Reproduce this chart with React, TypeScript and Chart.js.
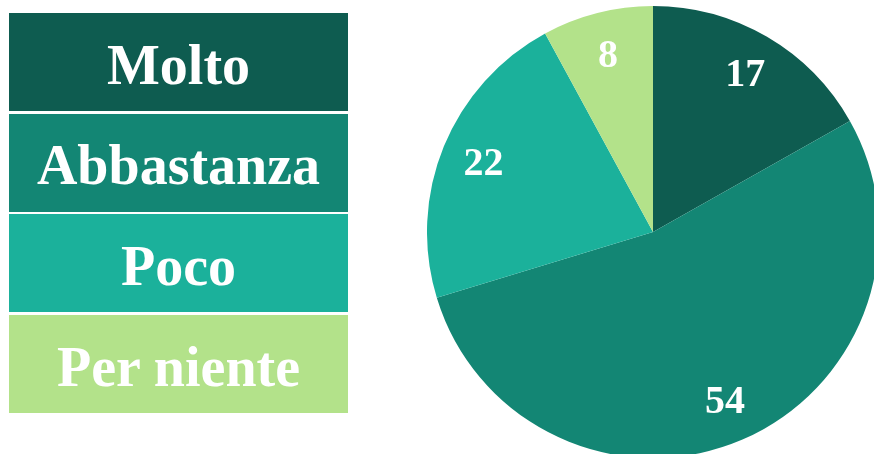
import React, { useEffect, useRef } from "react";
import { Chart, registerables } from "chart.js";

Chart.register(...registerables);

const categories = ["Molto", "Abbastanza", "Poco", "Per niente"];
const values = [17, 54, 22, 8];
const colors = ["#0e5c50", "#138674", "#1bb19b", "#b3e28a"];

const sliceLabelPlugin = {
  id: "sliceLabels",
  afterDatasetsDraw(chart: any) {
    const ctx = chart.ctx;
    const meta = chart.getDatasetMeta(0);
    const data = chart.data.datasets[0].data as number[];
    ctx.save();
    ctx.font = "bold 40px 'Liberation Serif', 'Times New Roman', serif";
    ctx.fillStyle = "#ffffff";
    ctx.textAlign = "center";
    ctx.textBaseline = "middle";
    meta.data.forEach((arc: any, i: number) => {
      const p = arc.getProps(["x", "y", "startAngle", "endAngle", "outerRadius"], true);
      const mid = (p.startAngle + p.endAngle) / 2;
      const r = p.outerRadius * 0.81;
      ctx.fillText(String(data[i]), p.x + Math.cos(mid) * r, p.y + 2 + Math.sin(mid) * r);
    });
    ctx.restore();
  },
};

export default function App() {
  const canvasRef = useRef<HTMLCanvasElement | null>(null);

  useEffect(() => {
    if (!canvasRef.current) return;
    const chart = new Chart(canvasRef.current, {
      type: "pie",
      data: {
        labels: categories,
        datasets: [
          {
            data: values,
            backgroundColor: colors,
            borderWidth: 0,
          },
        ],
      },
      options: {
        animation: false,
        responsive: false,
        maintainAspectRatio: false,
        layout: { padding: 0 },
        plugins: {
          legend: { display: false },
          tooltip: { enabled: false },
        },
      },
      plugins: [sliceLabelPlugin],
    });
    return () => chart.destroy();
  }, []);

  return (
    <div
      style={{
        position: "fixed",
        left: 0,
        top: 0,
        width: 874,
        height: 454,
        overflow: "hidden",
        background: "#ffffff",
      }}
    >
      {categories.map((c, i) => (
        <div
          key={c}
          style={{
            position: "absolute",
            left: 9,
            top: 13 + i * 100.67,
            width: 339,
            height: 98,
            boxSizing: "border-box",
            paddingTop: 5,
            background: colors[i],
            color: "#ffffff",
            fontFamily: "'Liberation Serif', 'Times New Roman', serif",
            fontWeight: "bold",
            fontSize: 56,
            lineHeight: 1,
            display: "flex",
            alignItems: "center",
            justifyContent: "center",
          }}
        >
          {c}
        </div>
      ))}
      <canvas
        ref={canvasRef}
        width={452}
        height={452}
        style={{ position: "absolute", left: 427, top: 6, width: 452, height: 452 }}
      />
    </div>
  );
}
